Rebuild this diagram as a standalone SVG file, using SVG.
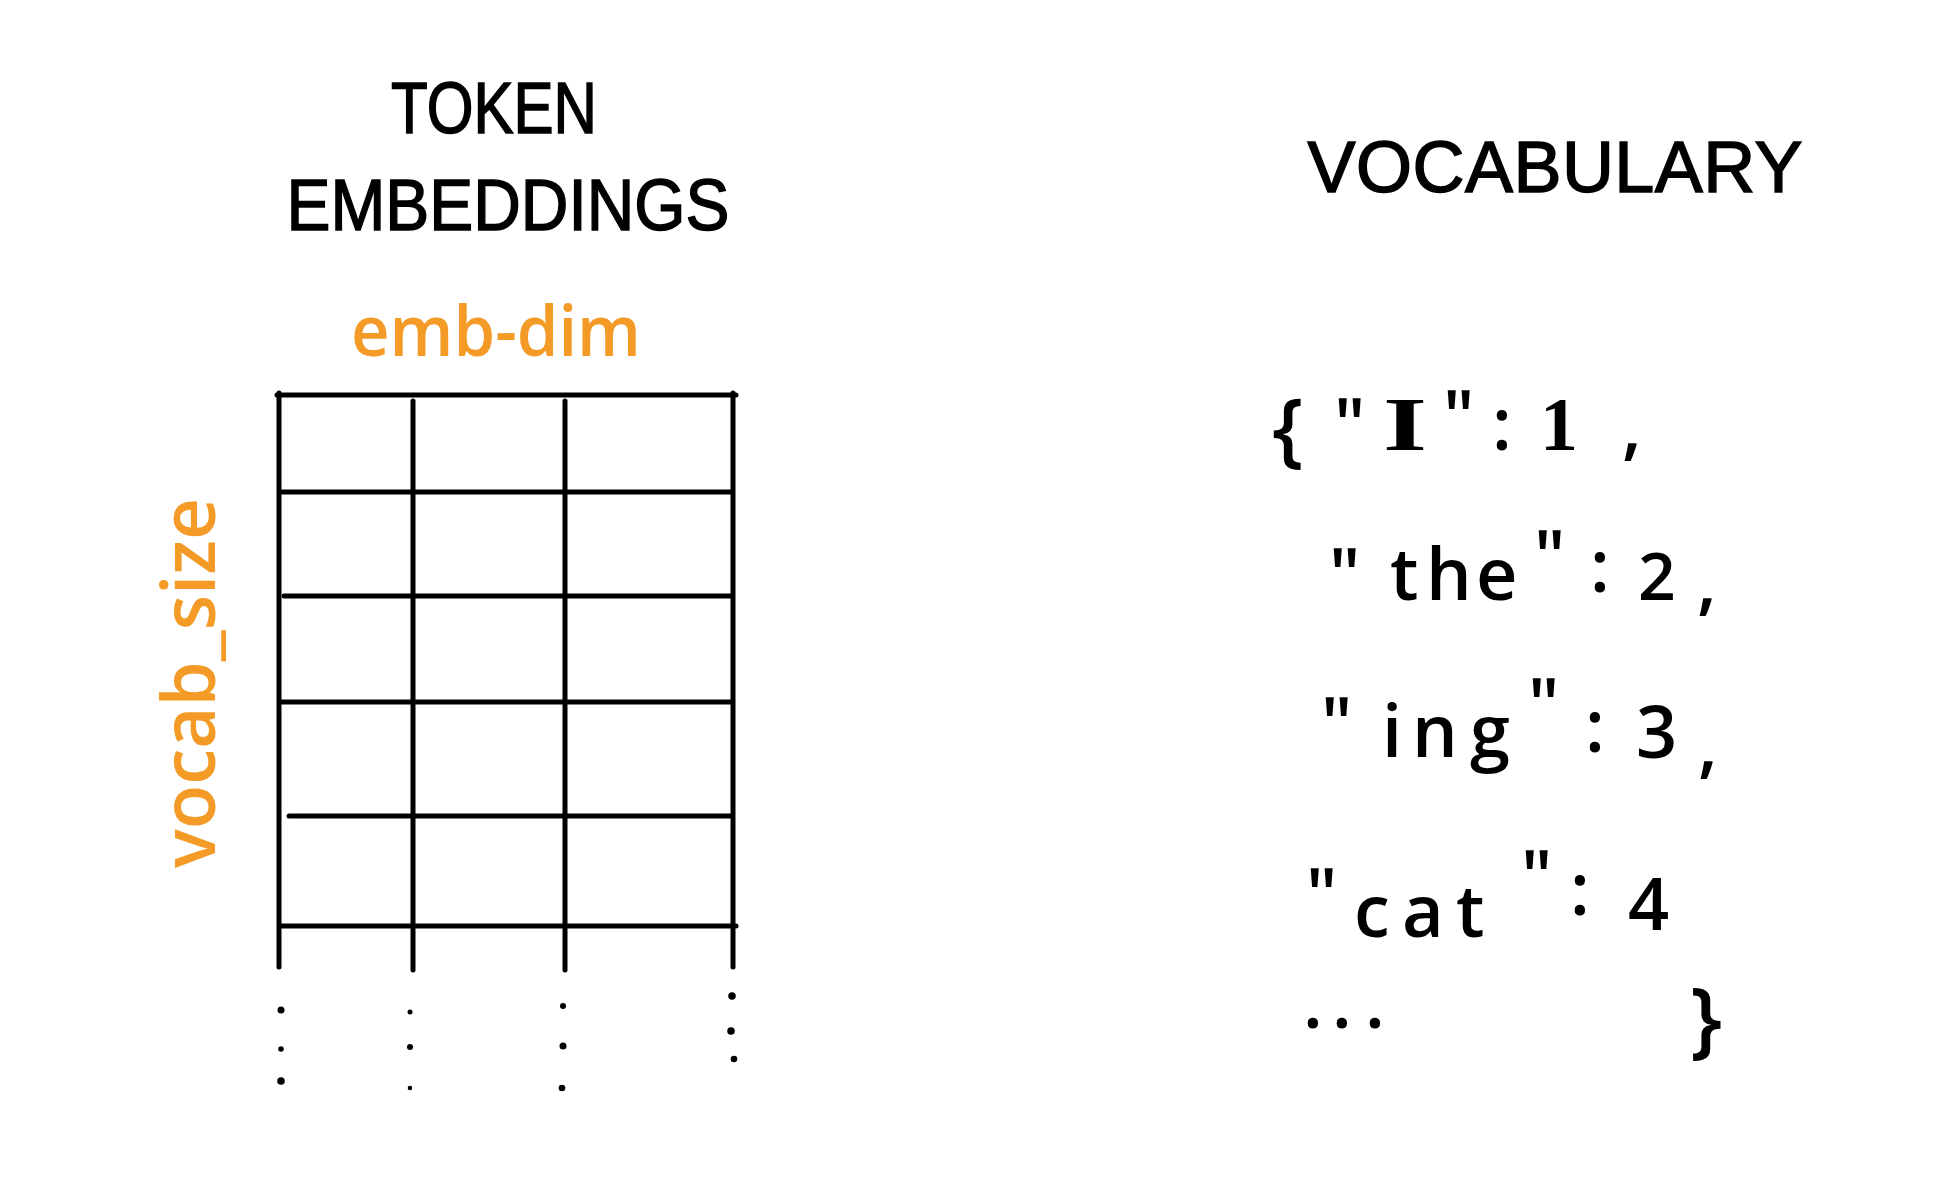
<svg xmlns="http://www.w3.org/2000/svg" width="1957" height="1187" viewBox="0 0 1957 1187">
<style>
.head{font-family:"Liberation Sans",Arial,sans-serif;font-size:72px;fill:#000;stroke:#000;stroke-width:1.5;}
.or{font-family:"Open Sans","Noto Sans",sans-serif;font-weight:600;fill:#F39B26;}
.dict{font-family:"Open Sans","Noto Sans",sans-serif;font-weight:600;font-size:72px;fill:#000;}
.ser{font-family:"Liberation Serif","Times New Roman",serif;font-weight:700;}
.grid line{stroke:#000;stroke-width:5;stroke-linecap:round;}
.dots circle{fill:#000;}
</style>
<rect width="1957" height="1187" fill="#fff"/>

<g id="title-token-embeddings">
<text class="head" x="494" y="133" text-anchor="middle" font-size="71" textLength="206" lengthAdjust="spacingAndGlyphs">TOKEN</text>
<text class="head" x="508" y="230" text-anchor="middle" font-size="76" textLength="443" lengthAdjust="spacingAndGlyphs">EMBEDDINGS</text>
</g>

<g id="label-emb-dim">
<text class="or" x="496" y="356" text-anchor="middle" font-size="70" textLength="290" lengthAdjust="spacingAndGlyphs">emb-dim</text>
</g>

<g id="label-vocab-size">
<text class="or" transform="translate(215,683) rotate(-90)" x="0" y="0" text-anchor="middle" font-size="74" textLength="370" lengthAdjust="spacingAndGlyphs">vocab_size</text>
</g>

<g id="embedding-matrix" class="grid">
<line x1="277" y1="395" x2="736" y2="395"/>
<line x1="279" y1="393" x2="279" y2="967"/>
<line x1="413" y1="401" x2="413" y2="970"/>
<line x1="565" y1="401" x2="565" y2="970"/>
<line x1="733" y1="393" x2="733" y2="967"/>
<line x1="282" y1="492" x2="732" y2="492"/>
<line x1="284" y1="596" x2="732" y2="596"/>
<line x1="282" y1="702" x2="732" y2="702"/>
<line x1="289" y1="816" x2="732" y2="816"/>
<line x1="282" y1="926" x2="736" y2="926"/>
</g>

<g id="matrix-continuation-dots" class="dots">
<circle cx="281" cy="1010" r="3.5"/>
<circle cx="281" cy="1049" r="2.8"/>
<circle cx="281" cy="1081" r="3.8"/>
<circle cx="410" cy="1012" r="2.5"/>
<circle cx="410" cy="1047" r="3"/>
<circle cx="410" cy="1088" r="2.3"/>
<circle cx="563" cy="1006" r="3"/>
<circle cx="563" cy="1046" r="3.5"/>
<circle cx="562" cy="1088" r="3.3"/>
<circle cx="732" cy="996" r="3.8"/>
<circle cx="731" cy="1031" r="3.8"/>
<circle cx="734" cy="1059" r="3.3"/>
</g>

<g id="title-vocabulary">
<text class="head" x="1555" y="192" text-anchor="middle" font-size="68" textLength="495" lengthAdjust="spacing">VOCABULARY</text>
</g>

<g id="vocabulary-dict">
<text class="dict"><tspan x="1272" y="457" font-size="82">{</tspan><tspan x="1334" y="450">"</tspan><tspan class="ser" x="1383" y="450" font-size="76" textLength="44" lengthAdjust="spacingAndGlyphs">I</tspan><tspan x="1443" y="442">"</tspan><tspan x="1492" y="450">:</tspan><tspan class="ser" x="1540" y="450" font-size="76">1</tspan><tspan x="1622" y="452">,</tspan></text>
<text class="dict"><tspan x="1329" y="600">"</tspan><tspan x="1390 1426 1476" y="600">the</tspan><tspan x="1534" y="582">"</tspan><tspan x="1590" y="592">:</tspan><tspan x="1638" y="600" font-size="66">2</tspan><tspan x="1697" y="607">,</tspan></text>
<text class="dict"><tspan x="1321" y="749">"</tspan><tspan x="1382 1412 1470" y="757">ing</tspan><tspan x="1528" y="730">"</tspan><tspan x="1585" y="752">:</tspan><tspan x="1636" y="758">3</tspan><tspan x="1698" y="770">,</tspan></text>
<text class="dict"><tspan x="1354 1402 1456" y="937">cat</tspan><tspan x="1306" y="920">"</tspan><tspan x="1521" y="902">"</tspan><tspan x="1570" y="915">:</tspan><tspan x="1628" y="930">4</tspan></text>
<text class="dict"><tspan x="1303 1332 1365" y="1028">...</tspan><tspan x="1690" y="1048" font-size="84">}</tspan></text>
</g>
</svg>
